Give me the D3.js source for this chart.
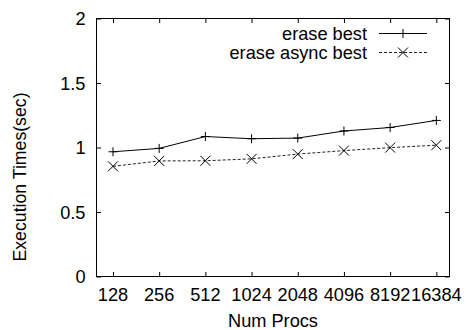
<!DOCTYPE html>
<html>
<head>
<meta charset="utf-8">
<script src="https://cdn.jsdelivr.net/npm/d3@7"></script>
<style>
  html, body { margin: 0; padding: 0; background: #fff; }
  svg { display: block; }
  text { font-family: "Liberation Sans", Arial, Helvetica, sans-serif; fill: #000; }
</style>
</head>
<body>
<svg id="chart" width="466" height="330"></svg>
<script>
// Processor counts along the x axis
const procs = ["128", "256", "512", "1024", "2048", "4096", "8192", "16384"];
// Execution times in seconds
const eraseBest = [0.967, 0.993, 1.085, 1.068, 1.073, 1.128, 1.155, 1.21];
const eraseAsyncBest = [0.854, 0.896, 0.897, 0.912, 0.949, 0.976, 0.999, 1.018];
const seriesNames = ["erase best", "erase async best"];
const yTicks = [0, 0.5, 1, 1.5, 2];
const yTickLabels = ["0", "0.5", "1", "1.5", "2"];

const svg = d3.select("#chart");
const box = { left: 96.5, right: 449.5, top: 18.5, bottom: 276.5 };
const fontSize = 18.2;

const x = d3.scaleLinear().domain([-0.357, procs.length - 1 + 0.285]).range([box.left, box.right]);
const y = d3.scaleLinear().domain([0, 2]).range([box.bottom, box.top]);

const tickLen = 4.5;
const g = svg.append("g");

// Ticks, drawn inward on all four sides
const yAxisL = d3.axisLeft(y).tickValues(yTicks).tickSizeInner(-tickLen).tickSizeOuter(0).tickFormat("");
const yAxisR = d3.axisRight(y).tickValues(yTicks).tickSizeInner(-tickLen).tickSizeOuter(0).tickFormat("");
const xAxisB = d3.axisBottom(x).tickValues(d3.range(procs.length)).tickSizeInner(-tickLen).tickSizeOuter(0).tickFormat("");
const xAxisT = d3.axisTop(x).tickValues(d3.range(procs.length)).tickSizeInner(-tickLen).tickSizeOuter(0).tickFormat("");

function styleAxis(sel) {
  sel.select(".domain").remove();
  sel.selectAll(".tick line").attr("stroke", "#000").attr("stroke-width", 1);
}
g.append("g").attr("transform", `translate(${box.left},0)`).call(yAxisL).call(styleAxis);
g.append("g").attr("transform", `translate(${box.right},0)`).call(yAxisR).call(styleAxis);
g.append("g").attr("transform", `translate(0,${box.bottom})`).call(xAxisB).call(styleAxis);
g.append("g").attr("transform", `translate(0,${box.top})`).call(xAxisT).call(styleAxis);

// Frame
g.append("rect")
  .attr("x", box.left).attr("y", box.top)
  .attr("width", box.right - box.left).attr("height", box.bottom - box.top)
  .attr("fill", "none").attr("stroke", "#000").attr("stroke-width", 1);

// Tick labels
g.selectAll(".ylab").data(yTicks).enter().append("text")
  .attr("x", 85.5).attr("y", d => y(d))
  .attr("dy", "0.36em").attr("text-anchor", "end")
  .style("font-size", fontSize + "px")
  .text((d, i) => yTickLabels[i]);

g.selectAll(".xlab").data(procs).enter().append("text")
  .attr("x", (d, i) => x(i)).attr("y", 301)
  .attr("text-anchor", "middle")
  .style("font-size", fontSize + "px")
  .text(d => d);

// Axis titles
g.append("text")
  .attr("x", 273).attr("y", 327)
  .attr("text-anchor", "middle")
  .style("font-size", fontSize + "px")
  .text("Num Procs");

g.append("text")
  .attr("transform", "translate(25.5,177) rotate(-90)")
  .attr("text-anchor", "middle")
  .style("font-size", "17.7px")
  .text("Execution Times(sec)");

// Lines
const line = d3.line().x((d, i) => x(i)).y(d => y(d));
const plot = g.append("g");

plot.append("path").datum(eraseBest)
  .attr("d", line).attr("fill", "none")
  .attr("stroke", "#000").attr("stroke-width", 1);

plot.append("path").datum(eraseAsyncBest)
  .attr("d", line).attr("fill", "none")
  .attr("stroke", "#222").attr("stroke-width", 1)
  .attr("stroke-dasharray", "3,2");

// Markers
function plusPath(cx, cy, r) {
  return `M${cx - r},${cy}H${cx + r}M${cx},${cy - r}V${cy + r}`;
}
function crossPath(cx, cy, r) {
  return `M${cx - r},${cy - r}L${cx + r},${cy + r}M${cx - r},${cy + r}L${cx + r},${cy - r}`;
}
plot.selectAll(".pt1").data(eraseBest).enter().append("path")
  .attr("d", (d, i) => plusPath(x(i), y(d), 4.5))
  .attr("stroke", "#000").attr("stroke-width", 1).attr("fill", "none");
plot.selectAll(".pt2").data(eraseAsyncBest).enter().append("path")
  .attr("d", (d, i) => crossPath(x(i), y(d), 5))
  .attr("stroke", "#000").attr("stroke-width", 1).attr("fill", "none");

// Legend
const legend = g.append("g");
const rows = [
  { name: seriesNames[0], yy: 33.5, dash: null, stroke: "#000", marker: plusPath, r: 4.5 },
  { name: seriesNames[1], yy: 52.5, dash: "3,2", stroke: "#222", marker: crossPath, r: 5 }
];
rows.forEach(r => {
  legend.append("text")
    .attr("x", 367).attr("y", r.yy).attr("dy", "0.36em")
    .attr("text-anchor", "end")
    .style("font-size", fontSize + "px")
    .text(r.name);
  legend.append("line")
    .attr("x1", 379).attr("x2", 427).attr("y1", r.yy).attr("y2", r.yy)
    .attr("stroke", r.stroke).attr("stroke-width", 1)
    .attr("stroke-dasharray", r.dash);
  legend.append("path")
    .attr("d", r.marker(403, r.yy, r.r))
    .attr("stroke", "#000").attr("stroke-width", 1).attr("fill", "none");
});
</script>
</body>
</html>
